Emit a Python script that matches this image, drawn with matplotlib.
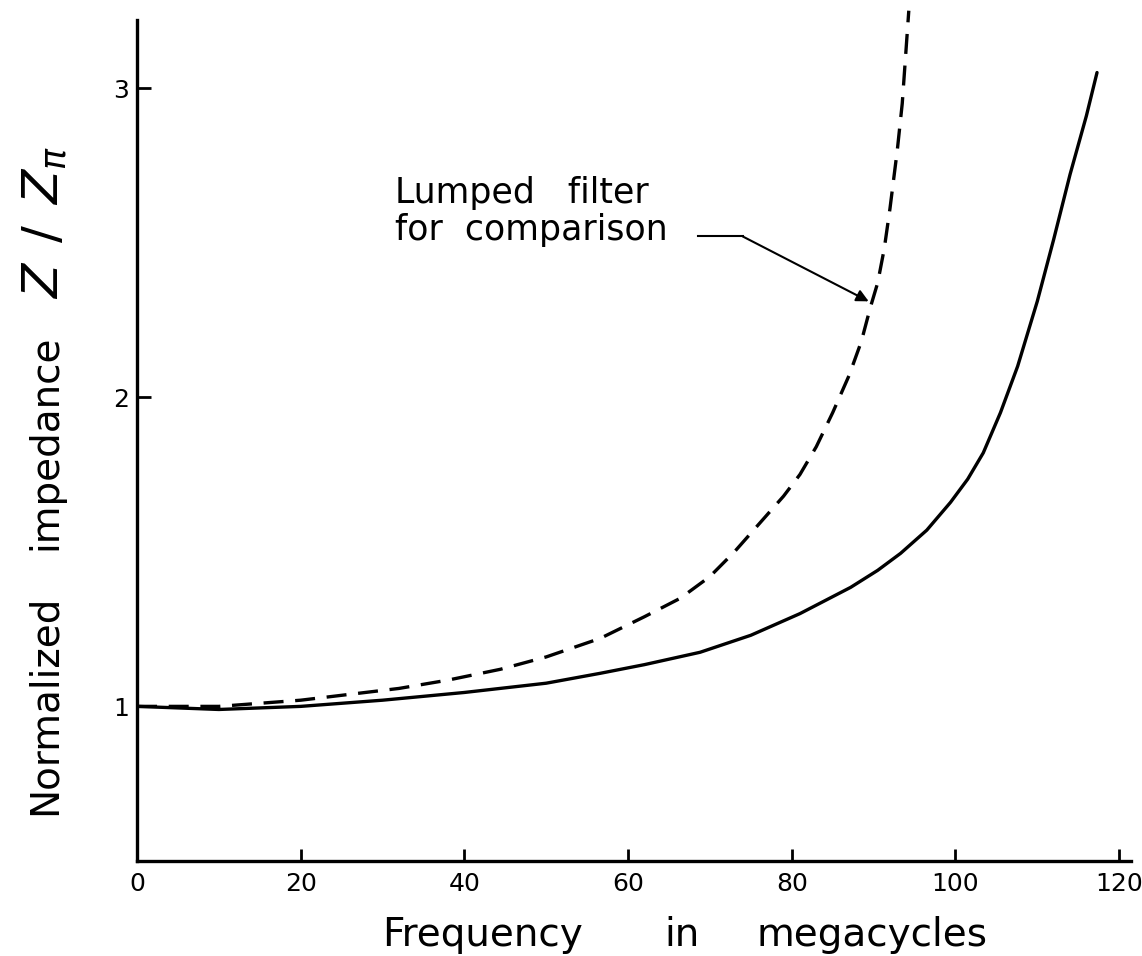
import numpy as np
import matplotlib
matplotlib.use("Agg")
import matplotlib.pyplot as plt

# distributed line (solid)
freq_line = [0, 5, 10, 20, 30, 40, 50, 56.6, 62, 68.8, 75, 81, 87.2, 90.5,
             93.3, 96.5, 99.4, 101.5, 103.4, 105.5, 107.6, 110, 112, 114,
             116, 117.3]
z_line = [1.0, 0.995, 0.99, 1.0, 1.02, 1.045, 1.075, 1.107, 1.135, 1.175,
          1.23, 1.30, 1.385, 1.44, 1.495, 1.57, 1.66, 1.735, 1.82, 1.95,
          2.10, 2.31, 2.51, 2.72, 2.91, 3.05]

# lumped filter (dashed)
freq_lumped = [0, 10, 20, 32, 38, 44.4, 50, 56.6, 62, 66.4, 70, 73, 76, 79,
               81, 83, 85, 87, 88.5, 89.6, 90.5, 91.3, 92, 92.9, 93.5, 94.3]
z_lumped = [1.0, 1.0, 1.02, 1.058, 1.085, 1.12, 1.16, 1.22, 1.29, 1.35,
            1.42, 1.50, 1.59, 1.68, 1.75, 1.84, 1.95, 2.07, 2.18, 2.29,
            2.37, 2.48, 2.61, 2.80, 2.95, 3.25]

x_ticks = [0, 20, 40, 60, 80, 100, 120]
y_ticks = [1, 2, 3]

W, H = 1142, 956
fig = plt.figure(figsize=(W / 100, H / 100), dpi=100)
ax = fig.add_axes([0.12, 0.0994, 0.87, 0.8797])

ax.plot(freq_line, z_line, color="black", lw=2.4, solid_capstyle="round")
ax.plot(freq_lumped, z_lumped, color="black", lw=2.4, dashes=(6, 3.5),
        clip_on=False)

# label with its leader
ax.text(31.5, 2.628, "Lumped   filter", fontsize=25, ha="left", va="baseline")
ax.text(31.5, 2.508, "for  comparison", fontsize=25, ha="left", va="baseline")
ax.plot([68.6, 74.0], [2.52, 2.52], color="black", lw=1.5)
ax.annotate("", xy=(89.4, 2.31), xytext=(74.0, 2.52),
            arrowprops=dict(arrowstyle="-|>", color="black", lw=1.5,
                            mutation_scale=18, shrinkA=0, shrinkB=0))

ax.set_xlim(0, 121.4)
ax.set_ylim(0.5, 3.22)
ax.set_xticks(x_ticks)
ax.set_yticks(y_ticks)
ax.tick_params(direction="in", width=2, labelsize=18)
ax.tick_params(axis="y", length=10, pad=6)
ax.tick_params(axis="x", length=9, pad=8)

for s in ["top", "right"]:
    ax.spines[s].set_visible(False)
for s in ["left", "bottom"]:
    ax.spines[s].set_linewidth(2.4)

# axis titles, word by word like the hand lettering
for word, xc in [("Frequency", 482), ("in", 682), ("megacycles", 872)]:
    fig.text(xc / W, 1 - 935 / H, word, fontsize=28, ha="center", va="center")
for word, yc in [("Normalized", 705), ("impedance", 442)]:
    fig.text(45 / W, 1 - yc / H, word, fontsize=28, rotation=90,
             ha="center", va="center")
fig.text(45 / W, 1 - 222 / H, "$Z\\;\\,/\\;\\,Z_{\\pi}$",
         fontsize=36, rotation=90, ha="center", va="center")

fig.savefig("out.png", dpi=100)
